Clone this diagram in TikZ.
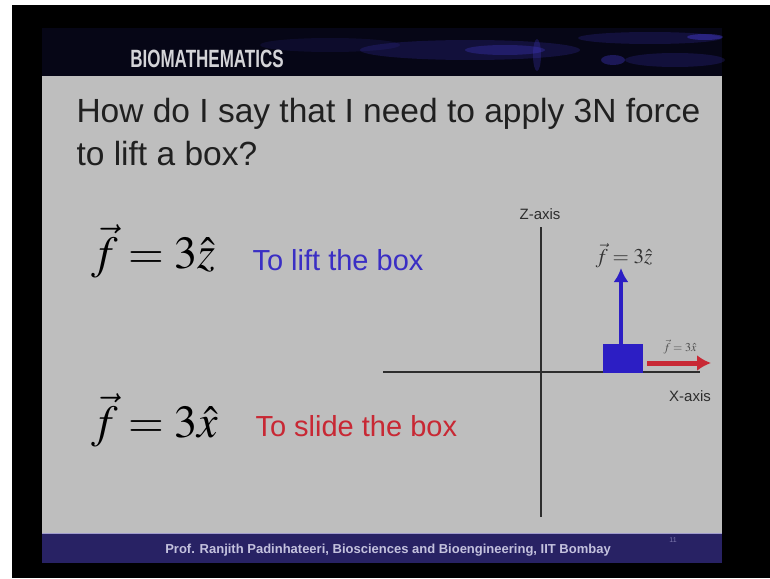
\documentclass[tikz,border=0pt]{standalone}
\usepackage{mathptmx}
\usepackage[no-math]{fontspec}
\setmainfont{Liberation Sans}
\usetikzlibrary{arrows.meta,positioning}

\definecolor{slidegray}{RGB}{190,190,190}
\definecolor{headnavy}{RGB}{6,6,22}
\definecolor{streakblue}{RGB}{70,60,210}
\definecolor{brandgray}{RGB}{212,212,216}
\definecolor{footnavy}{RGB}{40,34,100}
\definecolor{footline}{RGB}{160,156,205}
\definecolor{foottext}{RGB}{196,194,222}
\definecolor{titleink}{RGB}{32,32,32}
\definecolor{liftblue}{RGB}{58,46,196}
\definecolor{slidered}{RGB}{200,40,52}
\definecolor{boxblue}{RGB}{44,30,196}
\definecolor{axisink}{RGB}{45,45,45}

\tikzset{
  titletext/.style={anchor=base west,text=titleink,font=\fontsize{33.5}{37}\selectfont},
  eqtext/.style={anchor=base west,text=black,font=\fontsize{46}{50}\selectfont},
  notetext/.style={anchor=base west,font=\fontsize{29}{32}\selectfont},
  axislabel/.style={text=axisink,font=\fontsize{15}{17}\selectfont},
  axisline/.style={draw=axisink,line width=2pt},
  streak/.style={fill=streakblue,fill opacity=#1},
}

\begin{document}
\begin{tikzpicture}[x=1pt,y=-1pt,>=Latex]
    \useasboundingbox (0,0) rectangle (770,578);
    \fill[white] (0,0) rectangle (770,578);
    \fill[black] (12,5) rectangle (770,578);

    % header band
    \fill[headnavy] (42,28) rectangle (722,76);
    \fill[streak=0.12] (330,45) ellipse (70 and 7);
    \fill[streak=0.2] (470,50) ellipse (110 and 10);
    \fill[streak=0.3] (505,50) ellipse (40 and 5);
    \fill[streak=0.25] (537,55) ellipse (4 and 16);
    \fill[streak=0.2] (650,38) ellipse (72 and 6);
    \fill[streak=0.45] (705,37) ellipse (18 and 3);
    \fill[streak=0.2] (675,60) ellipse (50 and 7);
    \fill[streak=0.35] (613,60) ellipse (12 and 5);
    \node[text=brandgray,font=\bfseries\fontsize{25}{27}\selectfont,xscale=0.68] (brand) at (207,59) {BIOMATHEMATICS};

    % slide body
    \fill[slidegray] (42,76) rectangle (722,533);
    \fill[footnavy] (42,533) rectangle (722,563);
    \draw[footline,line width=1.5pt] (42,533.5) -- (722,533.5);
    \node[text=foottext,font=\bfseries\fontsize{13}{15}\selectfont] (credit) at (388,550) {Prof. Ranjith Padinhateeri, Biosciences and Bioengineering, IIT Bombay};
    \node[text=footline!70!footnavy,font=\fontsize{7}{8}\selectfont] (pageno) at (673,540) {11};

    % question
    \node[titletext] (q1) at (73,122) {How do I say that I need to apply 3N force};
    \node[titletext] (q2) at (73,165) {to lift a box?};

    % equations
    \node[eqtext] (eqz) at (88,268) {$\vec{f}=3\hat{z}$};
    \node[notetext,text=liftblue] (lift) at (249,270) {To lift the box};
    \node[eqtext] (eqx) at (88,437) {$\vec{f}=3\hat{x}$};
    \node[notetext,text=slidered] (slide) at (252,436) {To slide the box};

    % axes
    \coordinate (ztop) at (541,227);
    \coordinate (zbot) at (541,517);
    \coordinate (xleft) at (383,372);
    \coordinate (xright) at (700,372);
    \draw[axisline] (ztop) -- (zbot);
    \draw[axisline] (xleft) -- (xright);
    \node[axislabel] (zlab) at (540,214) {Z-axis};
    \node[axislabel] (xlab) at (690,396) {X-axis};

    % box and forces
    \node[fill=boxblue,minimum width=40pt,minimum height=29pt,inner sep=0pt] (box) at (623,358.5) {};
    \coordinate (uptip) at (621,268);
    \coordinate (righttip) at (711,363);
    \draw[draw=boxblue,line width=4pt,arrows={-Latex[length=14pt,width=15pt]}] (box.north -| uptip) -- (uptip);
    \draw[draw=slidered,line width=5pt,arrows={-Latex[length=14pt,width=16pt]}] ([xshift=4pt]box.east |- righttip) -- (righttip);
    \node[anchor=base,text=black!80,font=\fontsize{21}{23}\selectfont] (fz) at (624,263) {$\vec{f}=3\hat{z}$};
    \node[anchor=base,text=black!70,font=\fontsize{12}{14}\selectfont] (fx) at (680,351) {$\vec{f}=3\hat{x}$};
\end{tikzpicture}
\end{document}
